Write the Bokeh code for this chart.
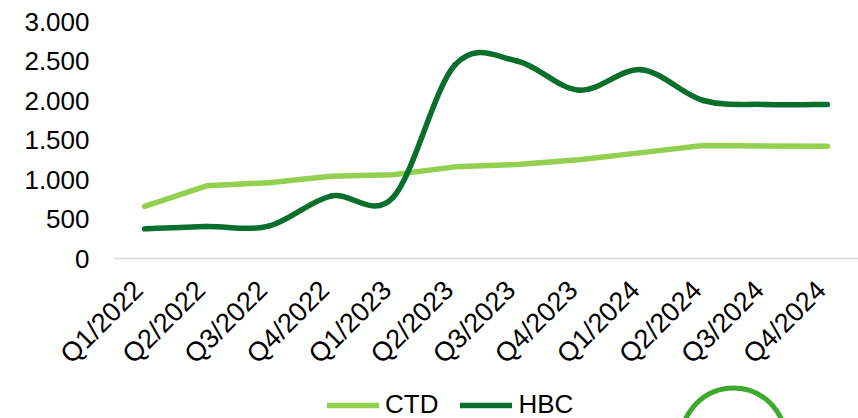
from math import pi
from bokeh.plotting import figure
from bokeh.models import (Range1d, FixedTicker, Legend, LegendItem, Label,
                          LinearAxis)
from bokeh.embed import file_html
from bokeh.resources import INLINE

quarters = ["Q1/2022", "Q2/2022", "Q3/2022", "Q4/2022",
            "Q1/2023", "Q2/2023", "Q3/2023", "Q4/2023",
            "Q1/2024", "Q2/2024", "Q3/2024", "Q4/2024"]
ctd = [660, 920, 960, 1040, 1060, 1160, 1190, 1250, 1340, 1430, 1425, 1420]
hbc = [375, 405, 410, 790, 770, 2450, 2500, 2130, 2390, 2000, 1950, 1950]
y_ticks = [0, 500, 1000, 1500, 2000, 2500, 3000]

CTD_COLOR = "#92D050"
HBC_COLOR = "#0A6E2C"
FONT = "Liberation Sans"

W, H = 858, 418
PLOT_LEFT, PLOT_TOP, ZERO_Y = 113, 21, 258   # pixel layout of the chart area

# The frame covers the whole canvas; ranges are chosen so that the category
# area starts at PLOT_LEFT and the value area spans PLOT_TOP..ZERO_Y.
n = len(quarters)
ux = n / (W - PLOT_LEFT)                # x units per pixel
X_MIN = -0.5 - PLOT_LEFT * ux
X_MAX = n - 0.5
Y_MAX = 3000
uy = Y_MAX / (ZERO_Y - PLOT_TOP)        # y units per pixel
Y_MIN = -(H - ZERO_Y) * uy
Y_TOP = Y_MAX + PLOT_TOP * uy

p = figure(width=W, height=H, output_backend="svg", toolbar_location=None,
           x_range=Range1d(X_MIN, X_MAX), y_range=Range1d(Y_MIN, Y_TOP),
           min_border=0, x_axis_location=None, y_axis_location=None)
p.outline_line_color = None
p.grid.visible = False
p.background_fill_color = "white"
p.border_fill_color = "white"

xs = list(range(n))

# CTD: straight segments
r_ctd = p.line(xs, ctd, line_color=CTD_COLOR, line_width=5.5,
               line_cap="round", line_join="round")

# HBC: smoothed (Catmull-Rom style Bezier control points computed from data)
def bezier_parts(x, y):
    m = len(x)
    out = dict(x0=[], y0=[], x1=[], y1=[], cx0=[], cy0=[], cx1=[], cy1=[])
    for i in range(m - 1):
        im1 = max(i - 1, 0)
        ip2 = min(i + 2, m - 1)
        out["x0"].append(x[i]); out["y0"].append(y[i])
        out["x1"].append(x[i + 1]); out["y1"].append(y[i + 1])
        out["cx0"].append(x[i] + (x[i + 1] - x[im1]) / 6.0)
        out["cy0"].append(y[i] + (y[i + 1] - y[im1]) / 6.0)
        out["cx1"].append(x[i + 1] - (x[ip2] - x[i]) / 6.0)
        out["cy1"].append(y[i + 1] - (y[ip2] - y[i]) / 6.0)
    return out

b = bezier_parts(xs, hbc)
r_hbc = p.bezier(x0=b["x0"], y0=b["y0"], x1=b["x1"], y1=b["y1"],
                 cx0=b["cx0"], cy0=b["cy0"], cx1=b["cx1"], cy1=b["cy1"],
                 line_color=HBC_COLOR, line_width=5.5, line_cap="round")

# category axis on the zero line, labels rotated 45 degrees
SHIFT = 0.1
p.extra_x_ranges = {"labels": Range1d(X_MIN + SHIFT, X_MAX + SHIFT)}
xa = LinearAxis(x_range_name="labels", fixed_location=0,
                bounds=(-0.5 + SHIFT, n - 0.5 + SHIFT))
xa.ticker = FixedTicker(ticks=xs)
xa.major_label_overrides = {i: q for i, q in enumerate(quarters)}
xa.major_label_orientation = pi / 4
xa.major_label_text_font = FONT
xa.major_label_text_font_size = "27px"
xa.major_label_text_color = "black"
xa.major_tick_out = 0
xa.major_tick_in = 0
xa.minor_tick_out = 0
xa.minor_tick_in = 0
xa.axis_line_color = "#D9D9D9"
xa.axis_line_width = 1.5
xa.major_label_standoff = 27
p.add_layout(xa, "below")

# value axis at the left edge of the category area
ya = LinearAxis(fixed_location=-0.5, bounds=(0, Y_MAX))
ya.ticker = FixedTicker(ticks=y_ticks)
ya.major_label_overrides = {v: f"{v:,}".replace(",", ".") for v in y_ticks}
ya.major_label_text_font = FONT
ya.major_label_text_font_size = "26px"
ya.major_label_text_color = "black"
ya.major_tick_out = 0
ya.major_tick_in = 0
ya.minor_tick_out = 0
ya.minor_tick_in = 0
ya.axis_line_color = None
ya.major_label_standoff = 24
p.add_layout(ya, "left")

legend = Legend(items=[LegendItem(label="CTD", renderers=[r_ctd]),
                       LegendItem(label="HBC", renderers=[r_hbc])],
                orientation="horizontal", location=(327, -2),
                glyph_width=52, glyph_height=20, label_standoff=6, spacing=22,
                padding=0, margin=0, border_line_alpha=0, background_fill_alpha=0,
                label_text_font=FONT, label_text_font_size="26px",
                label_text_color="black")
p.add_layout(legend, "center")

ring = Label(x=733, y=-22, x_units="screen", y_units="screen", text=" ",
             text_font_size="1px", anchor="center", padding=52,
             border_radius=60, border_line_color="#3DAA2E", border_line_width=5,
             background_fill_alpha=0)
p.add_layout(ring)

open("out.html", "w").write(file_html(p, INLINE))
